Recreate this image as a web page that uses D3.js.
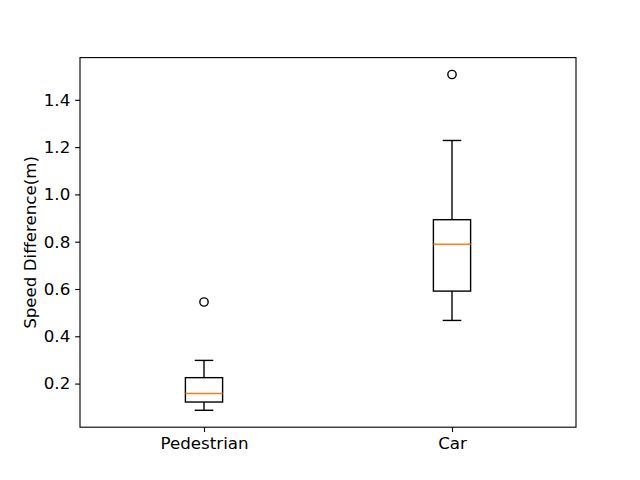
<!DOCTYPE html>
<html>
<head>
<meta charset="utf-8">
<script src="https://cdn.jsdelivr.net/npm/d3@7"></script>
<style>
  body { margin: 0; background: #fff; }
  text { font-family: "DejaVu Sans", sans-serif; }
</style>
</head>
<body>
<svg id="chart" width="640" height="480"></svg>
<script>
// box statistics
const categories = ["Pedestrian", "Car"];
const whiskerLow = [0.087, 0.467];
const q1 = [0.122, 0.591];
const median = [0.158, 0.789];
const q3 = [0.225, 0.893];
const whiskerHigh = [0.298, 1.228];
const outliers = [[0.545], [1.507]];
const yTicks = [0.2, 0.4, 0.6, 0.8, 1.0, 1.2, 1.4];

const margin = { left: 80, right: 64, top: 57.6, bottom: 52.8 };
const width = 640, height = 480;
const plotW = width - margin.left - margin.right;
const plotH = height - margin.top - margin.bottom;
const fontSize = "16.7px";

const svg = d3.select("#chart");
const g = svg.append("g").attr("transform", `translate(${margin.left},${margin.top})`);

const x = d3.scaleLinear().domain([0.5, 2.5]).range([0, plotW]);
const y = d3.scaleLinear().domain([0.0155, 1.5785]).range([plotH, 0]);
const boxW = 0.15;

const boxes = categories.map((c, i) => ({
  name: c, pos: i + 1,
  lo: whiskerLow[i], q1: q1[i], med: median[i], q3: q3[i], hi: whiskerHigh[i],
  fliers: outliers[i],
}));

const box = g.selectAll("g.box").data(boxes).enter().append("g").attr("class", "box");

// whiskers
box.append("line")
  .attr("x1", (d) => x(d.pos)).attr("x2", (d) => x(d.pos))
  .attr("y1", (d) => y(d.lo)).attr("y2", (d) => y(d.q1))
  .attr("stroke", "black").attr("stroke-width", 1.39);
box.append("line")
  .attr("x1", (d) => x(d.pos)).attr("x2", (d) => x(d.pos))
  .attr("y1", (d) => y(d.q3)).attr("y2", (d) => y(d.hi))
  .attr("stroke", "black").attr("stroke-width", 1.39);

// caps
["lo", "hi"].forEach((k) => {
  box.append("line")
    .attr("x1", (d) => x(d.pos - boxW / 4)).attr("x2", (d) => x(d.pos + boxW / 4))
    .attr("y1", (d) => y(d[k])).attr("y2", (d) => y(d[k]))
    .attr("stroke", "black").attr("stroke-width", 1.39);
});

// box
box.append("rect")
  .attr("x", (d) => x(d.pos - boxW / 2))
  .attr("width", (d) => x(d.pos + boxW / 2) - x(d.pos - boxW / 2))
  .attr("y", (d) => y(d.q3))
  .attr("height", (d) => y(d.q1) - y(d.q3))
  .attr("fill", "none").attr("stroke", "black").attr("stroke-width", 1.39);

// median
box.append("line")
  .attr("x1", (d) => x(d.pos - boxW / 2)).attr("x2", (d) => x(d.pos + boxW / 2))
  .attr("y1", (d) => y(d.med)).attr("y2", (d) => y(d.med))
  .attr("stroke", "#ff7f0e").attr("stroke-width", 1.39);

// fliers
box.selectAll("circle")
  .data((d) => d.fliers.map((v) => ({ pos: d.pos, v })))
  .enter().append("circle")
  .attr("cx", (d) => x(d.pos)).attr("cy", (d) => y(d.v))
  .attr("r", 4.17)
  .attr("fill", "none").attr("stroke", "black").attr("stroke-width", 1.39);

// axes
const tick = 4.86;
const xAxis = g.append("g").attr("transform", `translate(0,${plotH})`)
  .call(d3.axisBottom(x).tickValues([1, 2]).tickFormat((d) => categories[d - 1])
    .tickSize(tick).tickPadding(tick).tickSizeOuter(0));
const yAxis = g.append("g")
  .call(d3.axisLeft(y).tickValues(yTicks).tickFormat(d3.format(".1f"))
    .tickSize(tick).tickPadding(tick).tickSizeOuter(0));

[xAxis, yAxis].forEach((a) => {
  a.attr("font-size", null).attr("font-family", null);
  a.select(".domain").remove();
  a.selectAll("line").attr("stroke", "black").attr("stroke-width", 1.11);
  a.selectAll("text").attr("font-size", fontSize).attr("fill", "black");
});

// frame
g.append("rect").attr("width", plotW).attr("height", plotH)
  .attr("fill", "none").attr("stroke", "black").attr("stroke-width", 1.11);

svg.append("text")
  .attr("transform", `translate(35.5,${margin.top + plotH / 2}) rotate(-90)`)
  .attr("text-anchor", "middle")
  .attr("font-size", fontSize)
  .text("Speed Difference(m)");
</script>
</body>
</html>
